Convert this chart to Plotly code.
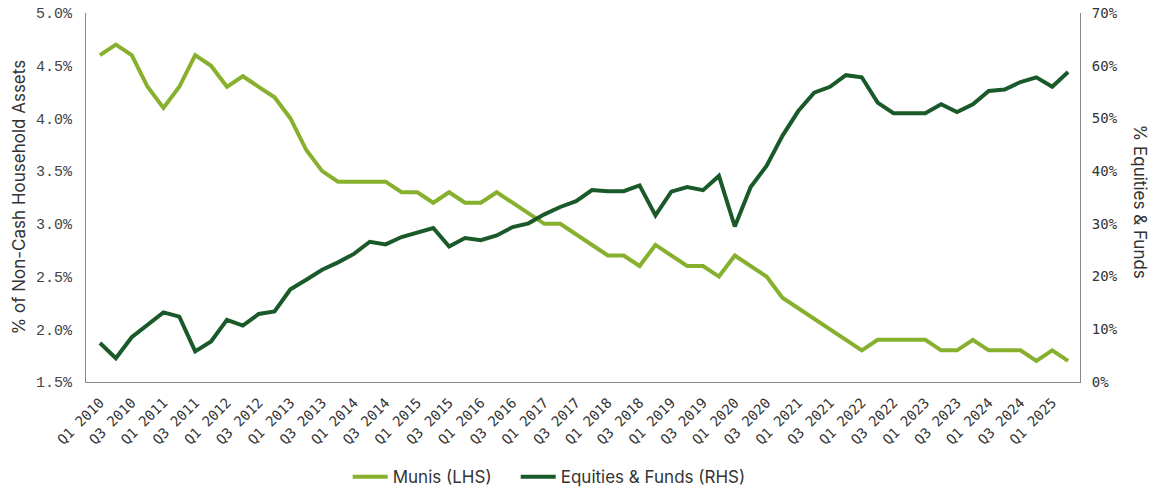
import plotly.graph_objects as go

quarters = [f"Q{q} {y}" for y in range(2010, 2026) for q in (1, 2, 3, 4)][:62]

munis = [4.6, 4.7, 4.6, 4.3, 4.1, 4.3, 4.6, 4.5, 4.3, 4.4,
         4.3, 4.2, 4.0, 3.7, 3.5, 3.4, 3.4, 3.4, 3.4, 3.3,
         3.3, 3.2, 3.3, 3.2, 3.2, 3.3, 3.2, 3.1, 3.0, 3.0,
         2.9, 2.8, 2.7, 2.7, 2.6, 2.8, 2.7, 2.6, 2.6, 2.5,
         2.7, 2.6, 2.5, 2.3, 2.2, 2.1, 2.0, 1.9, 1.8, 1.9,
         1.9, 1.9, 1.9, 1.8, 1.8, 1.9, 1.8, 1.8, 1.8, 1.7,
         1.8, 1.7]

equities = [7.4, 4.5, 8.5, 10.8, 13.2, 12.4, 5.8, 7.7, 11.8, 10.7,
            12.9, 13.4, 17.6, 19.4, 21.3, 22.7, 24.3, 26.6, 26.1, 27.5,
            28.3, 29.2, 25.7, 27.3, 26.9, 27.8, 29.4, 30.1, 31.8, 33.2,
            34.3, 36.4, 36.2, 36.2, 37.3, 31.6, 36.1, 37.0, 36.4, 39.1,
            29.5, 37.0, 41.0, 46.7, 51.4, 54.9, 56.0, 58.2, 57.8, 53.0,
            51.0, 51.0, 51.0, 52.7, 51.2, 52.7, 55.2, 55.5, 56.9, 57.8,
            56.0, 58.8]

tick_labels = [quarters[i] for i in range(0, len(quarters), 2)]
left_ticks = [1.5, 2.0, 2.5, 3.0, 3.5, 4.0, 4.5, 5.0]
right_ticks = [0, 10, 20, 30, 40, 50, 60, 70]

munis_color = "#86b02e"
eq_color = "#1a5a2a"
NB = "\u00a0"

fig = go.Figure()
fig.add_trace(go.Scatter(x=quarters, y=munis, mode="lines", name="Munis (LHS)" + NB * 4,
                         line=dict(color=munis_color, width=4), yaxis="y"))
fig.add_trace(go.Scatter(x=quarters, y=equities, mode="lines", name="Equities & Funds (RHS)",
                         line=dict(color=eq_color, width=4), yaxis="y2"))

fig.update_layout(
    width=1156, height=489,
    margin=dict(l=86, r=76, t=13, b=107, autoexpand=False),
    paper_bgcolor="white", plot_bgcolor="white",
    showlegend=True,
    legend=dict(orientation="h", x=0.466, xanchor="center", y=-0.258, yanchor="middle",
                font=dict(family="Inter", size=17, color="#333333"),
                itemwidth=35, traceorder="normal"),
    xaxis=dict(type="category", categoryorder="array", categoryarray=quarters,
               range=[-0.88, 61.75], tickmode="array", tickvals=tick_labels,
               ticktext=tick_labels, tickangle=-45, showgrid=False, automargin=False,
               showline=True, linecolor="#888888", linewidth=1, ticks="",
               ticklabelstandoff=6,
               tickfont=dict(family="DejaVu Sans Mono", size=14, color="#333333")),
    yaxis=dict(range=[1.5, 5.0], tickmode="array", tickvals=left_ticks,
               ticktext=[f"{v:.1f}%" for v in left_ticks],
               showgrid=False, zeroline=False, showline=True, linecolor="#888888",
               linewidth=1, ticks="", ticklabelstandoff=10, automargin=False,
               ticklabeloverflow="allow",
               tickfont=dict(family="Liberation Mono", size=15, color="#444444")),
    yaxis2=dict(range=[0, 70], tickmode="array", tickvals=right_ticks,
                ticktext=[f"{v}%" for v in right_ticks], overlaying="y", side="right",
                showgrid=False, zeroline=False, showline=True, linecolor="#888888",
                linewidth=1, ticks="", ticklabelstandoff=8, automargin=False,
                ticklabeloverflow="allow",
                tickfont=dict(family="DejaVu Sans Mono", size=14, color="#333333")),
    annotations=[
        dict(text="% of Non-Cash Household Assets", xref="paper", yref="paper",
             x=(18 - 86) / 994, y=0.5, xanchor="center", yanchor="middle",
             textangle=-90, showarrow=False,
             font=dict(family="Inter", size=17, color="#333333")),
        dict(text="% Equities & Funds", xref="paper", yref="paper",
             x=(1140 - 86) / 994, y=0.489, xanchor="center", yanchor="middle",
             textangle=90, showarrow=False,
             font=dict(family="Inter", size=17, color="#333333")),
    ],
)

fig.write_html("out.html", config={"displayModeBar": False},
               post_script="document.body.style.margin='0';")
